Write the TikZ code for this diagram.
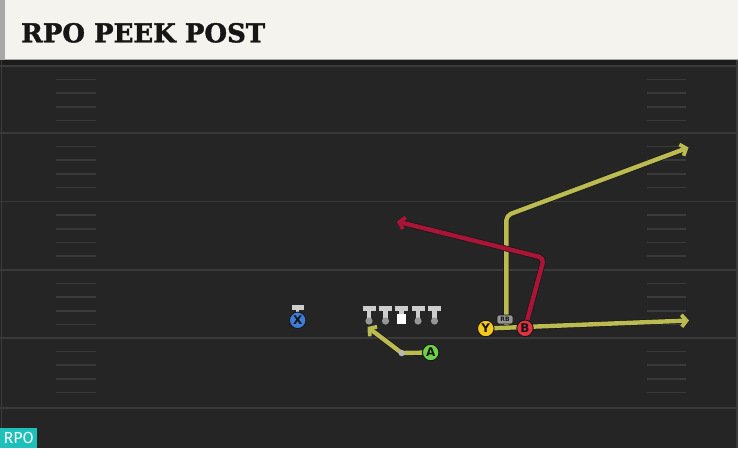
\documentclass[tikz,border=0pt]{standalone}
\usepackage{fontspec}
\setmainfont{DejaVu Serif}
\newfontfamily\titlefont{DejaVu Serif}[FakeBold=1.5]
\newfontfamily\labfont{DejaVu Sans}
\newfontfamily\tagfont{Fira Sans}
\usetikzlibrary{arrows.meta}
\definecolor{headc}{RGB}{245,243,237}
\definecolor{stripec}{RGB}{168,168,168}
\definecolor{fieldc}{RGB}{37,37,37}
\definecolor{bandc}{RGB}{28,28,28}
\definecolor{linec}{RGB}{58,58,58}
\definecolor{routey}{RGB}{187,187,82}
\definecolor{router}{RGB}{170,20,55}
\definecolor{xblue}{RGB}{62,125,215}
\definecolor{agreen}{RGB}{110,210,70}
\definecolor{yyellow}{RGB}{245,200,30}
\definecolor{bred}{RGB}{225,50,65}
\definecolor{teegray}{RGB}{205,205,205}
\definecolor{dotgray}{RGB}{150,150,150}
\definecolor{tagc}{RGB}{30,192,186}
\definecolor{darkc}{RGB}{22,22,22}
\tikzset{
  yardline/.style={draw=linec, line width=1.8pt},
  hashmark/.style={draw=linec, line width=1.6pt},
  player/.style={circle, minimum size=16.5pt, inner sep=0pt, draw=darkc, line width=0.9pt,
    font=\labfont\bfseries\fontsize{12}{12}\selectfont, text=darkc},
  routebase/.style={line width=4.4pt, line join=round,
    -{Straight Barb[length=5pt,width=12pt,line width=3.8pt]},
    preaction={draw=black!90, line width=5.8pt}},
  yroute/.style={routebase, draw=routey},
  rroute/.style={routebase, draw=router},
  tee/.style={fill=teegray},
  rbtag/.style={rounded corners=2pt, fill=dotgray, draw=darkc, line width=0.7pt,
    minimum width=16pt, minimum height=9pt, inner sep=0pt,
    font=\labfont\bfseries\fontsize{6}{6}\selectfont, text=darkc}
}
\begin{document}
\begin{tikzpicture}[x=1pt,y=-1pt]
\useasboundingbox (0,0) rectangle (738,448);
% field
\fill[fieldc] (0,60) rectangle (738,448);
\fill[bandc] (0,59) rectangle (738,65);
\foreach \y in {66,133,201.5,270,338,408} \draw[yardline] (0,\y) -- (738,\y);
\foreach \y in {66,133,201.5,270,338} {
  \foreach \k in {1,2,3,4} {
    \draw[hashmark] (56,\y+13.6*\k) -- (96,\y+13.6*\k);
    \draw[hashmark] (647,\y+13.6*\k) -- (686,\y+13.6*\k);
  }
}
\draw[yardline] (1.5,60) -- (1.5,448);
\draw[yardline] (737,60) -- (737,448);
% header
\fill[headc] (0,0) rectangle (738,59);
\fill[stripec] (0,0) rectangle (5,59);
\draw[stripec, line width=0.8pt] (0,59.2) -- (738,59.2);
\node[anchor=base west, inner sep=0pt, text=darkc,
  font=\titlefont\bfseries\fontsize{26}{26}\selectfont] (title) at (21,42.3) {RPO PEEK POST};
% players positions
\coordinate (Xp) at (297.7,320.3);
\coordinate (Ap) at (430.7,352.5);
\coordinate (Yp) at (485.8,328.5);
\coordinate (Bp) at (525,328.3);
% route waypoints
\coordinate (acorner) at (401.7,353);
\coordinate (atip) at (367.5,327);
\coordinate (ytip) at (689,320.5);
\coordinate (rbstart) at (506.3,325);
\coordinate (rbcorner) at (506.3,215.5);
\coordinate (rbtip) at (688.5,147.5);
\coordinate (bcorner) at (544,258);
\coordinate (btip) at (397,221.5);
% routes
\draw[yroute] (Yp) -- (ytip);
\draw[yroute, rounded corners=5pt] (rbstart) -- (rbcorner) -- (rbtip);
\draw[rroute, rounded corners=5pt] (Bp) -- (bcorner) -- (btip);
\draw[yroute] (Ap) -- (acorner) -- (atip);
\fill[dotgray!70!white] (acorner) circle (3.2pt);
% X tee
\fill[tee] (291.7,304.5) rectangle (303.7,309.5);
\fill[tee] (296.2,309.5) rectangle (299.2,313);
% linemen
\foreach \x/\n in {369/L1,385.5/L2,418/L4,434.5/L5} {
  \coordinate (\n) at (\x,321);
  \fill[tee] (\x-6.5,305.5) rectangle (\x+6.5,311);
  \fill[tee] (\x-2.2,311) rectangle (\x+2.2,319);
  \fill[dotgray] (\n) circle (3.6pt);
}
\coordinate (C) at (401.5,318.5);
\fill[tee] (401.5-6.5,305.5) rectangle (401.5+6.5,311);
\fill[tee] (401.5-2.2,311) rectangle (401.5+2.2,314);
\fill[white] (397.3,314) rectangle (405.7,323.5);
% players
\node[player, fill=xblue] (X) at (Xp) {X};
\node[player, fill=agreen] (A) at (Ap) {A};
\node[player, fill=yyellow] (Y) at (Yp) {Y};
\node[player, fill=bred] (B) at (Bp) {B};
\node[rbtag] (RB) at (505,319.5) {RB};
% tag
\node[anchor=south west, fill=tagc, text=white, minimum width=37pt, minimum height=20pt,
  inner sep=0pt, font=\tagfont\fontsize{16}{16}\selectfont] (tag) at (0,448) {RPO};
\end{tikzpicture}
\end{document}
